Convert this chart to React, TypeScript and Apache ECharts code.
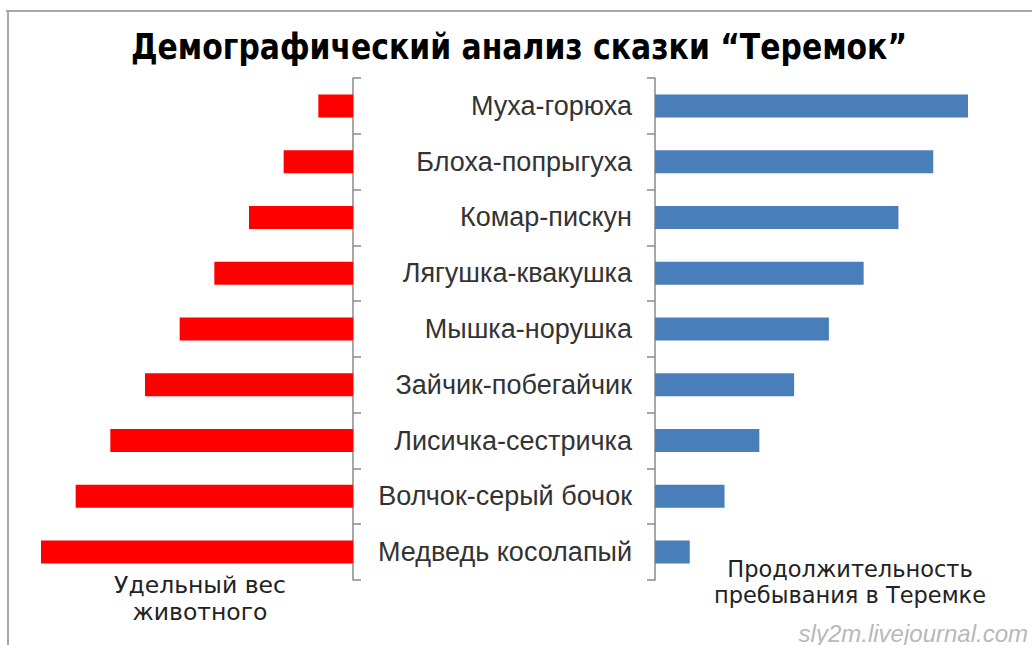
import React, { useEffect, useRef } from "react";
import * as echarts from "echarts";

const categories = [
  "Муха-горюха",
  "Блоха-попрыгуха",
  "Комар-пискун",
  "Лягушка-квакушка",
  "Мышка-норушка",
  "Зайчик-побегайчик",
  "Лисичка-сестричка",
  "Волчок-серый бочок",
  "Медведь косолапый",
];
const weightValues = [1, 2, 3, 4, 5, 6, 7, 8, 9];
const stayValues = [9, 8, 7, 6, 5, 4, 3, 2, 1];
const axisMax = 9;

const titleText = "Демографический анализ сказки “Теремок”";
const leftLabel = "Удельный вес\nживотного";
const rightLabel = "Продолжительность\nпребывания в Теремке";
const watermark = "sly2m.livejournal.com";

export default function App() {
  const ref = useRef<HTMLDivElement>(null);
  useEffect(() => {
    document.body.style.margin = "0";
    const chart = echarts.init(ref.current!, null, { renderer: "svg" });
    const axisLineStyle = { color: "#8a8a8a", width: 1.5 };
    chart.setOption({
      animation: false,
      backgroundColor: "#ffffff",
      grid: [
        { left: 41, top: 78, width: 312, height: 502 },
        { left: 655, top: 78, width: 313, height: 502 },
      ],
      xAxis: [
        { gridIndex: 0, type: "value", min: 0, max: axisMax, inverse: true, show: false },
        { gridIndex: 1, type: "value", min: 0, max: axisMax, show: false },
      ],
      yAxis: [
        {
          gridIndex: 0,
          type: "category",
          data: categories,
          inverse: true,
          position: "right",
          axisLine: { show: true, onZero: false, lineStyle: axisLineStyle },
          axisTick: { show: true, inside: false, length: 8, lineStyle: axisLineStyle },
          axisLabel: { show: false },
        },
        {
          gridIndex: 1,
          type: "category",
          data: categories,
          inverse: true,
          position: "left",
          axisLine: { show: true, onZero: false, lineStyle: axisLineStyle },
          axisTick: { show: true, inside: false, length: 8, lineStyle: axisLineStyle },
          axisLabel: {
            margin: 23,
            fontSize: 27,
            color: "#333333",
            fontFamily: "Liberation Sans, Arial, sans-serif",
          },
        },
      ],
      series: [
        {
          type: "bar",
          xAxisIndex: 0,
          yAxisIndex: 0,
          data: weightValues,
          barWidth: 23,
          itemStyle: { color: "#ff0000" },
        },
        {
          type: "bar",
          xAxisIndex: 1,
          yAxisIndex: 1,
          data: stayValues,
          barWidth: 23,
          itemStyle: { color: "#4a7ebb" },
        },
      ],
      graphic: [
        { type: "line", shape: { x1: 6, y1: 11, x2: 1032, y2: 11 }, style: { stroke: "#a8a8a8", lineWidth: 2 } },
        { type: "line", shape: { x1: 8, y1: 10, x2: 8, y2: 645 }, style: { stroke: "#a8a8a8", lineWidth: 2 } },
        {
          type: "text",
          x: 519,
          y: 46,
          scaleX: 0.83,
          style: {
            text: titleText,
            textAlign: "center",
            textVerticalAlign: "middle",
            fontSize: 36,
            fontWeight: "bold",
            fontFamily: "DejaVu Sans, sans-serif",
            fill: "#000000",
          },
        },
        {
          type: "text",
          x: 200,
          y: 598,
          style: {
            text: leftLabel,
            textAlign: "center",
            textVerticalAlign: "middle",
            fontSize: 23.5,
            lineHeight: 27,
            fontFamily: "DejaVu Sans, Verdana, sans-serif",
            fill: "#222222",
          },
        },
        {
          type: "text",
          x: 850,
          y: 582,
          style: {
            text: rightLabel,
            textAlign: "center",
            textVerticalAlign: "middle",
            fontSize: 22.5,
            lineHeight: 26,
            fontFamily: "DejaVu Sans, Verdana, sans-serif",
            fill: "#222222",
          },
        },
        {
          type: "text",
          x: 1028,
          y: 633,
          style: {
            text: watermark,
            textAlign: "right",
            textVerticalAlign: "middle",
            fontSize: 24,
            fontStyle: "italic",
            fontFamily: "Liberation Sans, Arial, sans-serif",
            fill: "#b8b8b8",
          },
        },
      ],
    });
    return () => chart.dispose();
  }, []);
  return <div ref={ref} style={{ width: 1032, height: 645 }} />;
}
